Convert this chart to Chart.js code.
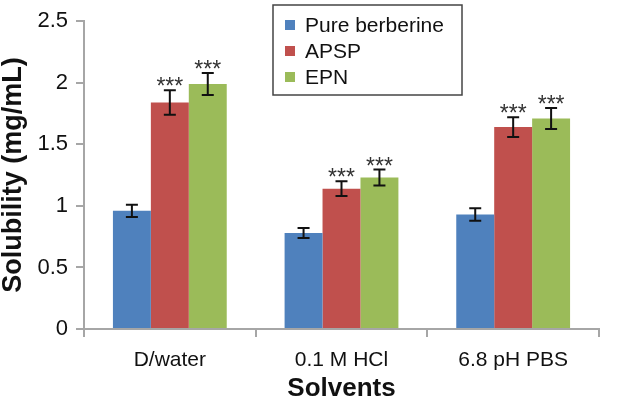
<!DOCTYPE html>
<html>
<head>
<meta charset="utf-8">
<script src="https://cdn.jsdelivr.net/npm/chart.js@4"></script>
<style>
  html, body { margin: 0; padding: 0; background: #fff; }
  #wrap { width: 619px; height: 404px; }
</style>
</head>
<body>
<div id="wrap"><canvas id="solChart" width="619" height="404"></canvas></div>
<script>
// values
const solvents = ['D/water', '0.1 M HCl', '6.8 pH PBS'];
const seriesNames = ['Pure berberine', 'APSP', 'EPN'];
const pureVals = [0.96, 0.78, 0.93];
const pureErr = [0.05, 0.04, 0.05];
const apspVals = [1.84, 1.14, 1.64];
const apspErr = [0.10, 0.06, 0.08];
const epnVals = [1.99, 1.23, 1.71];
const epnErr = [0.09, 0.065, 0.085];
const starred = [false, true, true]; // series that get *** marks
const yTicks = [0, 0.5, 1, 1.5, 2, 2.5];

const colors = ['#4F81BD', '#C0504D', '#9BBB59'];
const errs = [pureErr, apspErr, epnErr];
const axisGray = '#a6a6a6';
const font = 'Arial, "Liberation Sans", sans-serif';

// error bars + significance stars
const errorBars = {
    id: 'errorBars',
    afterDatasetsDraw(chart) {
        const ctx = chart.ctx;
        const y = chart.scales.y;
        chart.data.datasets.forEach((ds, di) => {
            const meta = chart.getDatasetMeta(di);
            meta.data.forEach((bar, i) => {
                const v = ds.data[i], e = errs[di][i];
                const top = y.getPixelForValue(v + e);
                const bot = y.getPixelForValue(v - e);
                ctx.save();
                ctx.strokeStyle = '#111';
                ctx.lineWidth = 2;
                ctx.beginPath();
                ctx.moveTo(bar.x, top); ctx.lineTo(bar.x, bot);
                ctx.moveTo(bar.x - 6, top); ctx.lineTo(bar.x + 6, top);
                ctx.moveTo(bar.x - 6, bot); ctx.lineTo(bar.x + 6, bot);
                ctx.stroke();
                if (starred[di]) {
                    ctx.fillStyle = '#333';
                    ctx.font = '23px ' + font;
                    ctx.textAlign = 'center';
                    ctx.textBaseline = 'alphabetic';
                    ctx.fillText('***', bar.x, top + 4);
                }
                ctx.restore();
            });
        });
    }
};

// boxed legend inside the plot, top right
const boxLegend = {
    id: 'boxLegend',
    afterDraw(chart) {
        const ctx = chart.ctx;
        const bx = 273, by = 5, bw = 189, bh = 90;
        ctx.save();
        ctx.strokeStyle = '#444';
        ctx.lineWidth = 1.5;
        ctx.fillStyle = '#fff';
        ctx.fillRect(bx, by, bw, bh);
        ctx.strokeRect(bx, by, bw, bh);
        ctx.font = '21px ' + font;
        ctx.textBaseline = 'middle';
        ctx.textAlign = 'left';
        chart.data.datasets.forEach((ds, i) => {
            const cy = by + 20 + i * 26;
            ctx.fillStyle = ds.backgroundColor;
            ctx.fillRect(285, cy - 5, 10, 10);
            ctx.fillStyle = '#111';
            ctx.fillText(ds.label, 305, cy + 1);
        });
        ctx.restore();
    }
};

new Chart(document.getElementById('solChart').getContext('2d'), {
    type: 'bar',
    data: {
        labels: solvents,
        datasets: [pureVals, apspVals, epnVals].map((vals, i) => ({
            label: seriesNames[i],
            data: vals,
            backgroundColor: colors[i],
            borderWidth: 0,
            categoryPercentage: 0.663,
            barPercentage: 1
        }))
    },
    options: {
        responsive: false,
        animation: false,
        layout: { padding: { top: 9, right: 20, left: 0, bottom: 0 } },
        plugins: {
            legend: { display: false },
            tooltip: { enabled: false }
        },
        scales: {
            x: {
                grid: { display: true, drawOnChartArea: false, offset: true, tickLength: 8, color: axisGray, lineWidth: 2 },
                border: { display: true, color: axisGray, width: 2 },
                ticks: { color: '#111', padding: 11, font: { family: font, size: 21 } },
                title: { display: true, text: 'Solvents', color: '#111', padding: 0,
                    font: { family: font, size: 26, weight: 'bold', lineHeight: 1.2 } },
                afterFit(scale) { scale.height = 75; }
            },
            y: {
                min: 0,
                max: 2.5,
                afterBuildTicks(scale) { scale.ticks = yTicks.map(v => ({ value: v })); },
                grid: { display: true, drawOnChartArea: false, tickLength: 8, color: axisGray, lineWidth: 2 },
                border: { display: true, color: axisGray, width: 2 },
                ticks: {
                    color: '#111', padding: 8, font: { family: font, size: 22 },
                    callback: v => String(v)
                },
                title: { display: true, text: 'Solubility (mg/mL)', color: '#111', padding: 0,
                    font: { family: font, size: 27, weight: 'bold', lineHeight: 1.0 } },
                afterFit(scale) { scale.width = 84; }
            }
        }
    },
    plugins: [errorBars, boxLegend]
});
</script>
</body>
</html>
